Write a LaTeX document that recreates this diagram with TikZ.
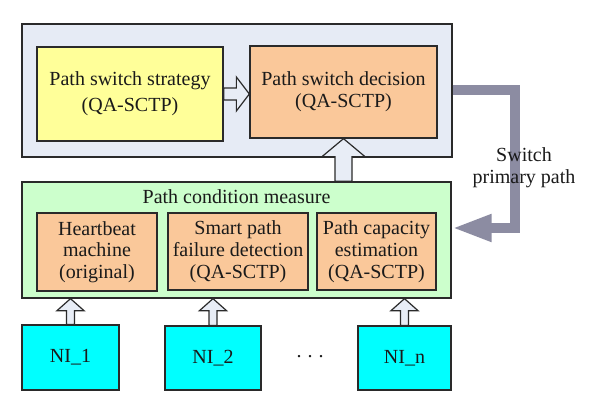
\documentclass[tikz,border=0pt]{standalone}
\usepackage{fontspec}
\setmainfont{Liberation Serif}
\usetikzlibrary{arrows.meta,calc}
\definecolor{topfill}{HTML}{E6EBF5}
\definecolor{yelfill}{HTML}{FFFF99}
\definecolor{orfill}{HTML}{FAC89A}
\definecolor{grfill}{HTML}{CCFFCC}
\definecolor{cyfill}{HTML}{00FFFF}
\definecolor{grayarr}{HTML}{8C8CA2}
\definecolor{arrfill}{HTML}{E8EDF6}
\definecolor{boxline}{HTML}{2A2A2A}
\definecolor{txt}{HTML}{1A1A1A}
\newcommand{\blockup}[5]{%
  \filldraw[blockarrow] let \p1=#1, \p2=#2 in
  (\x1-#3,\y1) -- (\x1-#3,\y2-#5) -- (\x1-#4,\y2-#5) -- (\x1,\y2) --
  (\x1+#4,\y2-#5) -- (\x1+#3,\y2-#5) -- (\x1+#3,\y1) -- cycle;}
\newcommand{\blockright}[5]{%
  \filldraw[blockarrow] let \p1=#1, \p2=#2 in
  (\x1,\y1-#3) -- (\x2-#5,\y1-#3) -- (\x2-#5,\y1-#4) -- (\x2,\y1) --
  (\x2-#5,\y1+#4) -- (\x2-#5,\y1+#3) -- (\x1,\y1+#3) -- cycle;}
\begin{document}
\begin{tikzpicture}[x=1pt,y=-1pt,
  box/.style={draw=boxline, line width=1.3pt, inner sep=0pt, align=center,
    font=\fontsize{20}{21.7}\selectfont, text=txt},
  lbl/.style={inner sep=0pt, align=center, font=\fontsize{20}{21.7}\selectfont, text=txt},
  blockarrow/.style={draw=boxline, fill=arrfill, line width=1.2pt, line join=miter},
  grayline/.style={draw=grayarr, line width=10pt, line join=miter,
    -{Triangle[length=40pt 0 0,width=25pt 0 0]}}]
\useasboundingbox (0,0) rectangle (600,414);
% top group
\node[box, fill=topfill, minimum width=430pt, minimum height=133pt] (top) at (237,90.5) {};
\node[box, fill=yelfill, minimum width=186pt, minimum height=94pt] (yel) at (130,94)
  {Path switch strategy\\[4pt](QA-SCTP)};
\node[box, fill=orfill, minimum width=187pt, minimum height=92pt] (dec) at (343.5,92)
  {Path switch decision\\(QA-SCTP)};
% measure group
\node[box, fill=grfill, minimum width=429pt, minimum height=116pt] (green) at (236.5,240) {};
\node[lbl] (title) at (236.5,197) {Path condition measure};
\node[box, fill=orfill, minimum width=120pt, minimum height=78pt] (hb) at (97,252)
  {Heartbeat\\machine\\(original)};
\node[box, fill=orfill, minimum width=140pt, minimum height=77pt] (smart) at (238,251.5)
  {Smart path\\failure detection\\(QA-SCTP)};
\node[box, fill=orfill, minimum width=119pt, minimum height=77pt] (cap) at (376.5,251.5)
  {Path capacity\\estimation\\(QA-SCTP)};
% network interfaces
\node[box, fill=cyfill, minimum width=97pt, minimum height=65pt] (ni1) at (70.5,357.5) {NI\_1};
\node[box, fill=cyfill, minimum width=96pt, minimum height=64pt] (ni2) at (213,358) {NI\_2};
\node[box, fill=cyfill, minimum width=93pt, minimum height=64pt] (nin) at (404.5,358) {NI\_n};
\node[lbl] (dots) at (310,357) {.\hspace{6pt}.\hspace{6pt}.};
% block arrows
\blockright{(yel.east)}{(dec.west)}{6pt}{17pt}{13pt}
\blockup{(green.north -| dec.south)}{(dec.south)}{8.5pt}{21.5pt}{18pt}
\blockup{(ni1.north)}{(ni1.north |- green.south)}{4pt}{13.5pt}{12pt}
\blockup{(ni2.north)}{(ni2.north |- green.south)}{4pt}{13.5pt}{12pt}
\blockup{(nin.north)}{(nin.north |- green.south)}{4pt}{13.5pt}{12pt}
% switch primary path
\coordinate (g1) at (515,90);
\coordinate (g2) at (515,228);
\draw[grayline] (top.east |- g1) -- (g1) -- (g2) -- (green.east |- g2);
\node[lbl] (sw) at (524,168) {Switch\\primary path};
\end{tikzpicture}
\end{document}
